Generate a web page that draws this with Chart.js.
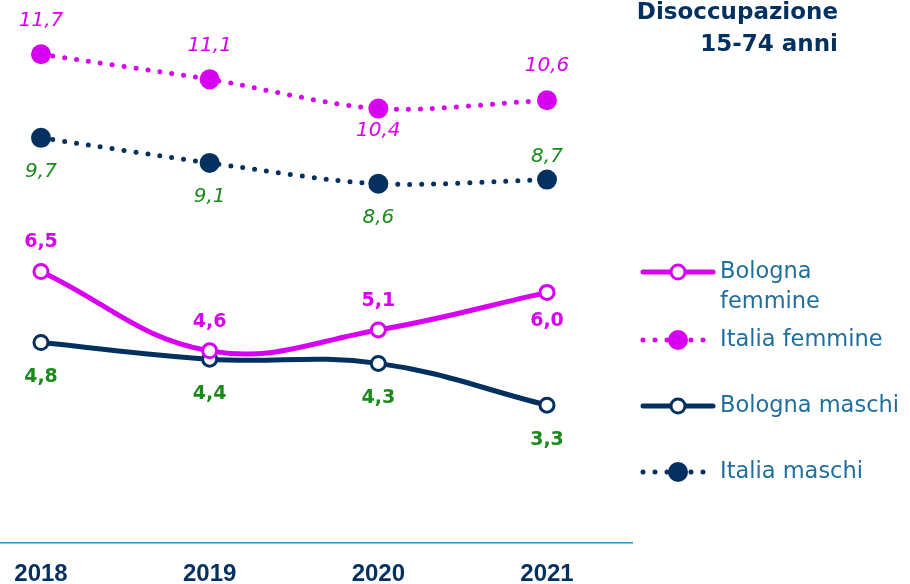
<!DOCTYPE html>
<html>
<head>
<meta charset="utf-8">
<script src="https://cdn.jsdelivr.net/npm/chart.js@4/dist/chart.umd.min.js"></script>
<style>
  html, body { margin: 0; padding: 0; background: #fff; }
  #wrap { width: 910px; height: 584px; position: relative; }
</style>
</head>
<body>
<div id="wrap"><canvas id="chart"></canvas></div>
<script>
const years = ['2018', '2019', '2020', '2021'];
const bolognaFemmine = [6.5, 4.6, 5.1, 6.0];
const italiaFemmine = [11.7, 11.1, 10.4, 10.6];
const bolognaMaschi = [4.8, 4.4, 4.3, 3.3];
const italiaMaschi = [9.7, 9.1, 8.6, 8.7];

const MAGENTA = '#d800f2';
const NAVY = '#03305f';
const GREEN = '#1a8a1a';

// where each value label sits: 'a' above the point, 'b' below
const labelSide = {
  'Bologna femmine': ['a', 'a', 'a', 'b'],
  'Italia femmine': ['a', 'a', 'b', 'a'],
  'Bologna maschi': ['b', 'b', 'b', 'b'],
  'Italia maschi': ['b', 'b', 'b', 'a']
};

function pts(arr) {
  return arr.map((v, i) => ({ x: i, y: v }));
}

const datasets = [
  {
    label: 'Bologna femmine',
    data: pts(bolognaFemmine),
    borderColor: MAGENTA,
    borderWidth: 5,
    tension: 0.4,
    pointRadius: 7,
    pointBorderWidth: 3,
    pointBackgroundColor: '#fff',
    pointBorderColor: MAGENTA,
    labelColor: MAGENTA,
    labelFont: 'bold 19px "DejaVu Sans"',
    gapAbove: 29, gapBelow: 29
  },
  {
    label: 'Italia femmine',
    data: pts(italiaFemmine),
    borderColor: MAGENTA,
    borderWidth: 5,
    borderDash: [0, 12],
    borderCapStyle: 'round',
    tension: 0.3,
    pointRadius: 10,
    pointBorderWidth: 0,
    pointBackgroundColor: MAGENTA,
    pointBorderColor: MAGENTA,
    labelColor: MAGENTA,
    labelFont: 'italic 20px "DejaVu Sans"',
    gapAbove: 34, gapBelow: 22
  },
  {
    label: 'Bologna maschi',
    data: pts(bolognaMaschi),
    borderColor: NAVY,
    borderWidth: 5,
    tension: 0.4,
    pointRadius: 7,
    pointBorderWidth: 3,
    pointBackgroundColor: '#fff',
    pointBorderColor: NAVY,
    labelColor: GREEN,
    labelFont: 'bold 19px "DejaVu Sans"',
    gapAbove: 30, gapBelow: 35
  },
  {
    label: 'Italia maschi',
    data: pts(italiaMaschi),
    borderColor: NAVY,
    borderWidth: 5,
    borderDash: [0, 12],
    borderCapStyle: 'round',
    tension: 0.3,
    pointRadius: 10,
    pointBorderWidth: 0,
    pointBackgroundColor: NAVY,
    pointBorderColor: NAVY,
    labelColor: GREEN,
    labelFont: 'italic 20px "DejaVu Sans"',
    gapAbove: 23, gapBelow: 34
  }
];

const valueLabels = {
  id: 'valueLabels',
  afterDatasetsDraw(chart) {
    const ctx = chart.ctx;
    ctx.save();
    ctx.textAlign = 'center';
    ctx.textBaseline = 'middle';
    chart.data.datasets.forEach((ds, di) => {
      const meta = chart.getDatasetMeta(di);
      const sides = labelSide[ds.label];
      meta.data.forEach((p, i) => {
        const v = ds.data[i].y;
        const y = sides[i] === 'a' ? p.y - ds.gapAbove : p.y + ds.gapBelow;
        ctx.fillStyle = ds.labelColor;
        ctx.font = ds.labelFont;
        ctx.fillText(v.toFixed(1).replace('.', ','), p.x, y);
      });
    });
    ctx.restore();
  }
};

const sideLegend = {
  id: 'sideLegend',
  afterDraw(chart) {
    const ctx = chart.ctx;
    ctx.save();
    // title
    ctx.fillStyle = NAVY;
    ctx.font = 'bold 23px "DejaVu Sans"';
    ctx.textAlign = 'right';
    ctx.textBaseline = 'middle';
    ctx.fillText('Disoccupazione', 838, 13);
    ctx.fillText('15-74 anni', 838, 45);

    const rows = [
      { ds: 0, y: 272, text: ['Bologna', 'femmine'] },
      { ds: 1, y: 340, text: ['Italia femmine'] },
      { ds: 2, y: 406, text: ['Bologna maschi'] },
      { ds: 3, y: 472, text: ['Italia maschi'] }
    ];
    rows.forEach(r => {
      const ds = chart.data.datasets[r.ds];
      const x0 = 643, x1 = 713, xm = 678;
      ctx.strokeStyle = ds.borderColor;
      ctx.lineWidth = 5;
      ctx.lineCap = 'round';
      ctx.setLineDash(ds.borderDash || []);
      ctx.beginPath();
      ctx.moveTo(x0, r.y);
      ctx.lineTo(x1, r.y);
      ctx.stroke();
      ctx.setLineDash([]);
      ctx.beginPath();
      ctx.arc(xm, r.y, ds.pointRadius, 0, Math.PI * 2);
      ctx.fillStyle = ds.pointBackgroundColor;
      ctx.fill();
      if (ds.pointBorderWidth) {
        ctx.lineWidth = ds.pointBorderWidth;
        ctx.strokeStyle = ds.pointBorderColor;
        ctx.stroke();
      }
      ctx.fillStyle = '#1f6e9e';
      ctx.font = '22.5px "DejaVu Sans"';
      ctx.textAlign = 'left';
      r.text.forEach((t, k) => ctx.fillText(t, 720, r.y + k * 30));
    });
    ctx.restore();
  }
};

new Chart(document.getElementById('chart'), {
  type: 'line',
  data: { datasets: datasets },
  plugins: [valueLabels, sideLegend],
  options: {
    responsive: true,
    maintainAspectRatio: false,
    animation: false,
    layout: { autoPadding: false, padding: { left: 0, right: 278, top: 0, bottom: -12 } },
    plugins: { legend: { display: false }, tooltip: { enabled: false } },
    scales: {
      x: {
        type: 'linear',
        min: -0.243,
        max: 3.504,
        grid: { display: false, drawTicks: true, tickLength: 9 },
        border: { display: true, color: '#2e86c1', width: 1.5 },
        afterBuildTicks(scale) {
          scale.ticks = years.map((y, i) => ({ value: i }));
        },
        ticks: {
          padding: 10,
          color: NAVY,
          font: { family: 'Liberation Sans', weight: 'bold', size: 24, lineHeight: 1 },
          callback: (v) => years[v]
        }
      },
      y: {
        display: false,
        min: 0,
        max: 13
      }
    }
  }
});
</script>
</body>
</html>
